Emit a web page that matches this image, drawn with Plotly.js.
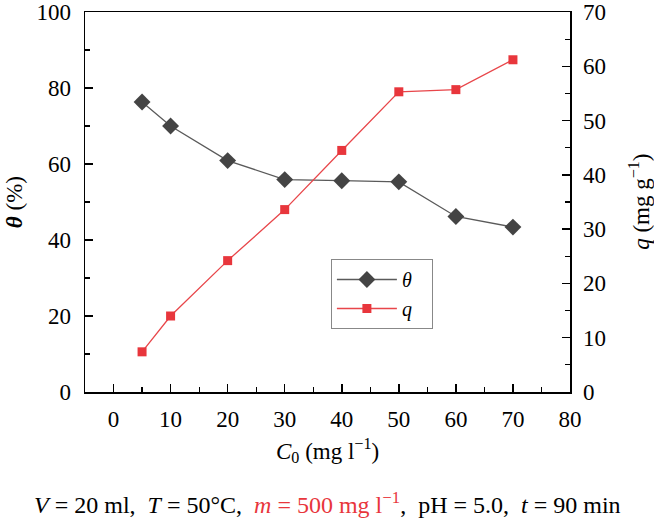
<!DOCTYPE html>
<html>
<head>
<meta charset="utf-8">
<script src="https://cdn.plot.ly/plotly-3.0.1.min.js"></script>
<style>html,body{margin:0;padding:0;background:#fff;}#chart{width:654px;height:521px;}</style>
</head>
<body>
<div id="chart"></div>
<script>
const concentrations = [5, 10, 20, 30, 40, 50, 60, 70];
const thetaValues = [76.3, 70.0, 60.9, 55.9, 55.6, 55.3, 46.2, 43.4];
const qValues = [7.4, 14.0, 24.2, 33.6, 44.5, 55.3, 55.7, 61.2];
const xTicks = [0, 10, 20, 30, 40, 50, 60, 70, 80];
const leftTicks = [0, 20, 40, 60, 80, 100];
const rightTicks = [0, 10, 20, 30, 40, 50, 60, 70];

const FONT = 'Liberation Serif, Times New Roman, serif';
const TS = 23;

const traces = [
  {
    x: concentrations, y: thetaValues, name: '<i>θ</i>&nbsp;&nbsp;&nbsp;', type: 'scatter', mode: 'lines+markers',
    line: {color: '#5a5a5a', width: 1.3},
    marker: {symbol: 'diamond', size: 13, color: '#444444'},
    yaxis: 'y'
  },
  {
    x: concentrations, y: qValues, name: '<i>q</i>', type: 'scatter', mode: 'lines+markers',
    line: {color: '#e8464a', width: 1.3},
    marker: {symbol: 'square', size: 9, color: '#e8363c'},
    yaxis: 'y2'
  }
];

const layout = {
  width: 654, height: 521,
  margin: {l: 85, r: 84, t: 12, b: 129},
  paper_bgcolor: '#fff', plot_bgcolor: '#fff',
  font: {family: FONT, size: TS, color: '#000'},
  showlegend: true,
  legend: {
    x: 0.507, y: 0.35, xanchor: 'left', yanchor: 'top',
    bordercolor: '#888', borderwidth: 1, bgcolor: '#fff',
    font: {family: FONT, size: 20}, itemwidth: 60, tracegroupgap: 0
  },
  xaxis: {
    range: [-5, 80], tickvals: xTicks, ticktext: xTicks.map(String),
    ticks: 'inside', ticklen: 8, tickwidth: 1.5, tickcolor: '#000',
    minor: {dtick: 5, tick0: 0, ticks: 'inside', ticklen: 5, tickwidth: 1.2, tickcolor: '#000'},
    showline: true, linecolor: '#000', linewidth: 1.5, mirror: true,
    showgrid: false, zeroline: false, ticklabelstandoff: 6, ticklabeloverflow: 'allow',
    tickfont: {family: FONT, size: TS}
  },
  yaxis: {
    range: [0, 100], tickvals: leftTicks,
    ticks: 'inside', ticklen: 8, tickwidth: 1.5, tickcolor: '#000',
    minor: {dtick: 10, tick0: 0, ticks: 'inside', ticklen: 5, tickwidth: 1.2, tickcolor: '#000'},
    showline: true, linecolor: '#000', linewidth: 1.5,
    showgrid: false, zeroline: false, ticklabelstandoff: 8, ticklabeloverflow: 'allow',
    tickfont: {family: FONT, size: TS}
  },
  yaxis2: {
    range: [0, 70], tickvals: rightTicks, overlaying: 'y', side: 'right',
    ticks: 'inside', ticklen: 8, tickwidth: 1.5, tickcolor: '#000',
    minor: {dtick: 5, tick0: 0, ticks: 'inside', ticklen: 5, tickwidth: 1.2, tickcolor: '#000'},
    showline: true, linecolor: '#000', linewidth: 1.5,
    showgrid: false, zeroline: false, ticklabelstandoff: 7, ticklabeloverflow: 'allow',
    tickfont: {family: FONT, size: TS}
  },
  annotations: [
    {
      xref: 'paper', yref: 'paper', x: 0.5, y: -0.153, xanchor: 'center', yanchor: 'middle',
      showarrow: false, font: {family: FONT, size: TS},
      text: '<i>C</i><sub>0</sub> (mg l<sup>−1</sup>)'
    },
    {
      xref: 'paper', yref: 'paper', x: -0.146, y: 0.5, xanchor: 'center', yanchor: 'middle',
      showarrow: false, textangle: -90, font: {family: FONT, size: TS},
      text: '<b><i>θ</i></b> (%)'
    },
    {
      xref: 'paper', yref: 'paper', x: 1.142, y: 0.5, xanchor: 'center', yanchor: 'middle',
      showarrow: false, textangle: -90, font: {family: FONT, size: TS},
      text: '<i>q</i> (mg g<sup>−1</sup>)'
    },
    {
      xref: 'paper', yref: 'paper', x: 0.5, y: -0.292, xanchor: 'center', yanchor: 'middle',
      showarrow: false, font: {family: FONT, size: 24, color: '#000'},
      text: '<i>V</i> = 20 ml,&nbsp; <i>T</i> = 50°C,&nbsp; <span style="color:#e8363c"><i>m</i> = 500 mg l<sup>−1</sup></span>,&nbsp; pH = 5.0,&nbsp; <i>t</i> = 90 min'
    }
  ]
};

Plotly.newPlot('chart', traces, layout, {displayModeBar: false, staticPlot: true});
</script>
</body>
</html>
